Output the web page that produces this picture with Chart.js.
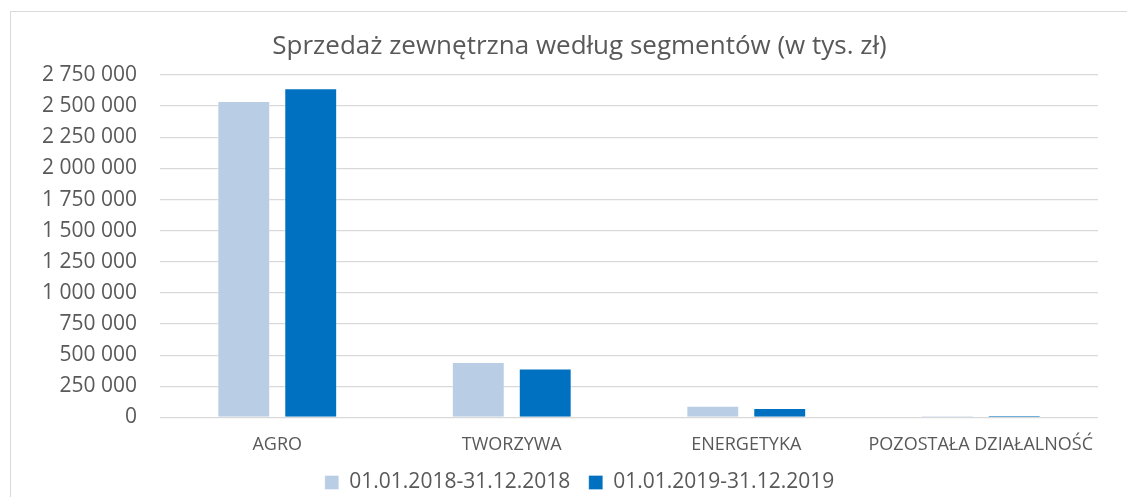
<!DOCTYPE html>
<html>
<head>
<meta charset="utf-8">
<script src="https://cdn.jsdelivr.net/npm/chart.js@4"></script>
<style>
  html, body { margin: 0; padding: 0; background: #fff; overflow: hidden; width: 1127px; height: 497px; }
  #frame { position: absolute; left: 10px; top: 11px; width: 1137px; height: 520px; border-left: 1px solid #d9d9d9; border-top: 1px solid #d9d9d9; }
  #chart { display: block; }
</style>
</head>
<body>
<div id="frame"><canvas id="chart" width="1137" height="491"></canvas></div>
<script>
const segments = ['AGRO', 'TWORZYWA', 'ENERGETYKA', 'POZOSTAŁA DZIAŁALNOŚĆ'];
const sales2018 = [2541000, 445000, 95000, 14000];
const sales2019 = [2643000, 394000, 76000, 17000];
const seriesLabels = ['01.01.2018-31.12.2018', '01.01.2019-31.12.2019'];
const chartTitle = 'Sprzedaż zewnętrzna według segmentów (w tys. zł)';

const textColor = '#595959';
const fontFamily = '"Open Sans", sans-serif';

function formatThousands(v) {
  return v.toString().replace(/\B(?=(\d{3})+(?!\d))/g, ' ');
}

const ctx = document.getElementById('chart').getContext('2d');
new Chart(ctx, {
  type: 'bar',
  data: {
    labels: segments,
    datasets: [{
      label: seriesLabels[0],
      data: sales2018,
      backgroundColor: '#b9cde5',
      borderColor: 'rgba(255, 255, 255, 0.4)',
      borderWidth: 1,
    }, {
      label: seriesLabels[1],
      data: sales2019,
      backgroundColor: '#0070c0',
      borderColor: 'rgba(255, 255, 255, 0.3)',
      borderWidth: 1,
    }],
  },
  options: {
    responsive: false,
    animation: false,
    categoryPercentage: 0.571,
    barPercentage: 0.79,
    layout: {
      padding: 0,
    },
    plugins: {
      title: {
        display: true,
        text: chartTitle,
        color: textColor,
        font: { family: fontFamily, size: 26, weight: 'normal' },
        padding: { top: 19.4, bottom: 12.4 },
      },
      legend: {
        position: 'bottom',
        labels: {
          color: textColor,
          font: { family: fontFamily, size: 21 },
          boxWidth: 14,
          boxHeight: 14,
          padding: 18.5,
        },
      },
      tooltip: { enabled: false },
    },
    scales: {
      x: {
        grid: { display: false, drawTicks: false },
        border: { display: false },
        ticks: {
          color: textColor,
          font: { family: fontFamily, size: 18 },
          padding: 17,
          maxRotation: 0,
        },
        afterFit: (scale) => { scale.height = 36; },
      },
      y: {
        min: 0,
        max: 2750000,
        grid: { color: '#d9d9d9', lineWidth: 1.3, drawTicks: false },
        border: { display: false },
        ticks: {
          stepSize: 250000,
          color: textColor,
          font: { family: fontFamily, size: 21 },
          padding: 23,
          callback: (v) => formatThousands(v),
        },
        afterFit: (scale) => { scale.width = 149; },
      },
      yRight: {
        position: 'right',
        display: true,
        grid: { display: false, drawTicks: false },
        border: { display: false },
        ticks: { display: false },
        afterFit: (scale) => { scale.width = 50; },
      },
    },
  },
});
</script>
</body>
</html>
